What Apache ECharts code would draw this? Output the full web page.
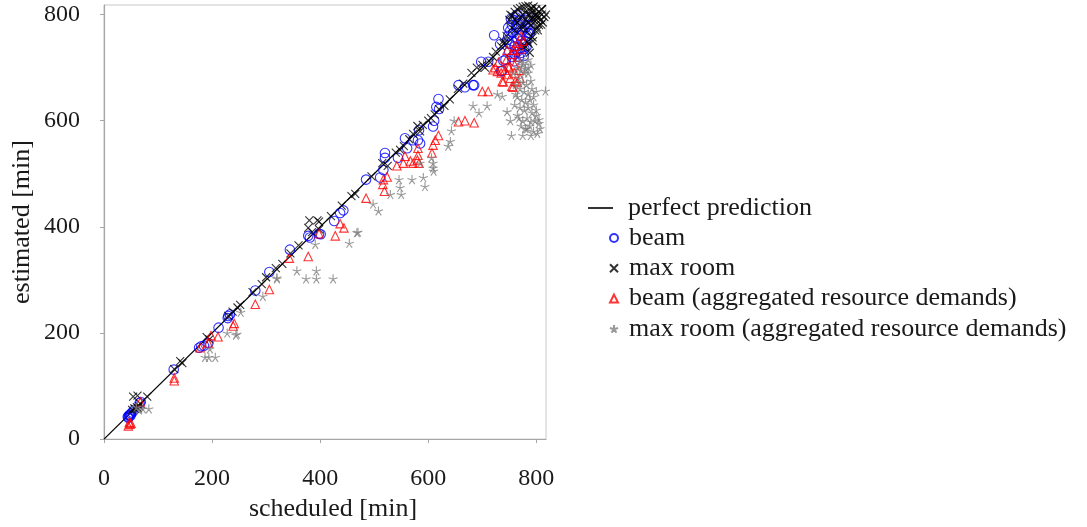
<!DOCTYPE html>
<html>
<head>
<meta charset="utf-8">
<script src="https://cdn.jsdelivr.net/npm/echarts@6/dist/echarts.min.js"></script>
<style>
  html, body { margin: 0; padding: 0; background: #ffffff; }
  #chart { width: 1087px; height: 527px; }
</style>
</head>
<body>
<div id="chart"></div>
<script>
// Scheduled vs. estimated duration (minutes) per plan

const tickValues = [0, 200, 400, 600, 800];
const axisMax = 818;
const diagonal = [0, 818];

const seriesNames = [
  'perfect prediction',
  'beam',
  'max room',
  'beam (aggregated resource demands)',
  'max room (aggregated resource demands)'
];

const beamPoints = [
  [44,42],[46,44],[48,46],[45,40],[50,48],[47,45],[52,50],[55,54],[49,44],[66,68],[68,70],
  [129,131],[176,172],[180,175],[185,176],[193,181],[212,210],[230,232],[233,235],[229,228],
  [280,280],[306,315],[344,357],[378,383],[381,380],[398,387],[401,386],[426,411],[443,431],[437,426],
  [485,489],[511,493],[517,507],[520,530],[520,539],[544,530],[557,567],[561,548],[572,563],
  [581,563],[583,582],[585,557],[609,589],[611,600],[615,626],[620,622],[619,641],
  [656,667],[668,663],[683,667],[685,667],[698,711],[711,711],[722,761],[733,744],[735,693],
  [737,694],[739,713],[743,715],
  [748,760],[752,770],[755,780],[758,790],[762,795],[765,800],[770,790],[775,785],[780,790],
  [785,795],[750,745],[755,750],[760,740],[765,755],[770,760],[775,770],[780,775],[785,780],
  [760,725],[765,730],[770,735],[775,745],[780,750],[750,730],[755,720],[760,712],[768,720],
  [772,728],[778,735],[783,760],[788,765],[789,770],[785,765],[757,765],[763,775],[767,782],
  [746,752],[748,775],[753,792],[773,750],[777,722],[782,740]
];

const maxRoomPoints = [
  [54,80],[62,82],[80,80],[58,57],[61,60],[65,62],[52,55],[68,66],[56,58],[63,58],
  [130,132],[141,147],[145,143],[190,192],[195,188],[230,232],[238,240],[247,248],[252,253],
  [275,277],[292,292],[300,305],[318,322],[330,330],[345,350],[360,365],[380,412],[395,412],
  [398,410],[378,398],[385,390],[398,395],[420,420],[440,440],[458,458],[465,462],[495,495],
  [515,520],[525,515],[540,540],[548,545],[555,552],[565,565],[572,575],[580,590],[585,580],
  [590,592],[600,600],[605,605],[612,612],[620,622],[630,628],[640,640],[655,660],[665,670],
  [680,690],[690,700],[700,705],[705,700],[715,710],[720,720],[725,730],[735,740],[740,745],
  [745,760],[750,790],[752,800],[755,798],[760,805],[765,810],[770,812],[775,815],[780,816],
  [785,817],[790,812],[793,811],[795,815],[800,810],[805,805],[810,800],[818,800],[815,795],
  [801,776],[793,757],[783,748],[776,739],[770,795],[775,800],[780,805],[785,800],[790,795],
  [795,790],[800,795],[780,790],[785,785],[790,780],[795,785],[800,790],[805,795],[810,810],
  [775,780],[780,770],[770,775],[765,785],[760,790],[788,800],[792,805],[798,800],[803,798],
  [808,790],[812,785],[798,770],[805,780],[790,760],[786,745],[780,740],[794,750],[788,728],
  [760,770],[755,775],[809,781],[803,770],[739,750]
];

const beamAggPoints = [
  [45,25],[48,28],[47,32],[50,30],[67,70],
  [130,110],[130,115],[178,172],[193,181],[198,195],[211,193],[239,213],[241,218],
  [280,254],[306,282],[343,341],[378,344],[398,387],[428,383],[437,406],[444,398],[485,454],
  [519,467],[516,480],[517,489],[524,494],[542,515],[554,520],[557,533],[567,524],[572,520],
  [580,526],[581,535],[581,548],[583,520],[607,539],[609,554],[613,563],[619,572],
  [656,598],[668,600],[685,596],[700,655],[711,655],[724,700],[739,673],[746,687],[755,665],
  [765,672],[750,700],[760,705],[745,715],[755,725],[760,690],[770,680],[768,695],[752,680],
  [742,695],[748,702],[730,710],[735,690],[720,696],[737,674],[757,663],[761,674],[728,693],
  [765,720],[770,735],[746,733],[767,746],[775,750],[760,740],[757,733],[772,760]
];

const maxRoomAggPoints = [
  [65,55],[72,57],[83,57],[60,60],
  [187,154],[194,154],[206,154],[196,170],[228,200],[244,196],[246,198],[253,239],[294,269],
  [320,302],[320,304],[357,317],[374,302],[391,367],[393,302],[393,317],[424,302],[454,369],
  [468,389],[470,390],[498,443],[508,430],[530,461],[546,489],[548,474],[550,461],[570,489],
  [585,520],[591,493],[594,476],[606,530],[609,520],[609,511],[610,505],[637,552],[641,561],
  [643,581],[648,600],[683,628],[694,615],[709,628],[728,650],[737,646],[746,617],[752,600],
  [754,572],[817,656],[802,576],[783,585],
  [776,709],[785,715],[765,700],[770,712],[775,705],[780,698],[772,695],[778,690],[785,700],
  [768,680],[775,672],[782,668],[790,675],[770,660],[778,655],[785,650],[792,660],[765,645],
  [773,640],[780,635],[788,640],[795,645],[770,625],[778,620],[785,625],[792,615],[800,620],
  [768,605],[775,600],[783,605],[790,598],[798,600],[805,602],[772,590],[780,585],[788,590],
  [795,580],[807,585],[765,610],[760,630],[762,650],[775,572],[790,572],[800,610],[805,595],
  [785,690],[790,705],[758,690],[795,630],[800,655],[762,668]
];

const serif = 'Liberation Serif';
const crossPath = 'path://M-1,-1L1,1M-1,1L1,-1';
const starPath = 'path://M0,0L0,-1M0,0L0.951,-0.309M0,0L0.588,0.809M0,0L-0.588,0.809M0,0L-0.951,-0.309';

function hollow(color) {
  return { color: 'rgba(0,0,0,0)', borderColor: color, borderWidth: 1.1 };
}

const chart = echarts.init(document.getElementById('chart'), null, { renderer: 'canvas' });

const axisCommon = {
  type: 'value',
  min: 0,
  max: axisMax,
  interval: 200,
  axisLine: { show: true, lineStyle: { color: '#a6a6a6', width: 1.2 } },
  axisTick: { show: true, inside: false, length: 4, customValues: tickValues, lineStyle: { color: '#a6a6a6', width: 1 } },
  axisLabel: { customValues: tickValues, color: '#1a1a1a', fontFamily: serif, fontSize: 24 },
  splitLine: { show: false },
  nameLocation: 'middle',
  nameTextStyle: { color: '#1a1a1a', fontFamily: serif, fontSize: 26 }
};

chart.setOption({
  animation: false,
  backgroundColor: '#ffffff',
  grid: {
    left: 104, top: 5, width: 442, height: 441,
    show: true, borderColor: '#c8c8c8', borderWidth: 1, backgroundColor: 'transparent'
  },
  xAxis: Object.assign({}, axisCommon, {
    name: 'scheduled [min]',
    offset: 15,
    nameGap: 40,
    nameTextStyle: Object.assign({}, axisCommon.nameTextStyle, { padding: [0, 0, 0, 16] }),
    axisLabel: Object.assign({}, axisCommon.axisLabel, { margin: 13 })
  }),
  yAxis: Object.assign({}, axisCommon, {
    name: 'estimated [min]',
    offset: 14,
    nameGap: 55,
    axisLabel: Object.assign({}, axisCommon.axisLabel, { margin: 10, padding: [0, 0, 5, 0] })
  }),
  legend: [
    {
      data: [{ name: seriesNames[0], icon: 'rect' }],
      left: 588, top: 195,
      orient: 'vertical',
      padding: 0,
      itemWidth: 25, itemHeight: 1.6,
      textStyle: { fontFamily: serif, fontSize: 26, color: '#1a1a1a', padding: [0, 0, 0, 10], lineHeight: 25 }
    },
    {
      data: seriesNames.slice(1),
      left: 609, top: 225,
      orient: 'vertical',
      padding: 0,
      itemWidth: 8, itemHeight: 8, itemGap: 4.3,
      textStyle: { fontFamily: serif, fontSize: 26, color: '#1a1a1a', padding: [0, 0, 0, 6], lineHeight: 25 }
    }
  ],
  series: [
    {
      name: seriesNames[0],
      type: 'line',
      data: [[diagonal[0], diagonal[0]], [diagonal[1], diagonal[1]]],
      symbol: 'none',
      lineStyle: { color: '#000000', width: 1.3 },
      itemStyle: { color: '#000000' },
      z: 2
    },
    {
      name: seriesNames[1],
      type: 'scatter',
      data: beamPoints,
      symbol: 'circle',
      symbolSize: 9.5,
      itemStyle: hollow('#0000ff'),
      z: 3
    },
    {
      name: seriesNames[2],
      type: 'scatter',
      data: maxRoomPoints,
      symbol: crossPath,
      symbolSize: 8,
      itemStyle: hollow('#000000'),
      z: 4
    },
    {
      name: seriesNames[3],
      type: 'scatter',
      data: beamAggPoints,
      symbol: 'triangle',
      symbolSize: 8.5,
      itemStyle: hollow('#ff0000'),
      z: 5
    },
    {
      name: seriesNames[4],
      type: 'scatter',
      data: maxRoomAggPoints,
      symbol: starPath,
      symbolSize: 9,
      itemStyle: hollow('#808080'),
      z: 6
    }
  ]
});
</script>
</body>
</html>
